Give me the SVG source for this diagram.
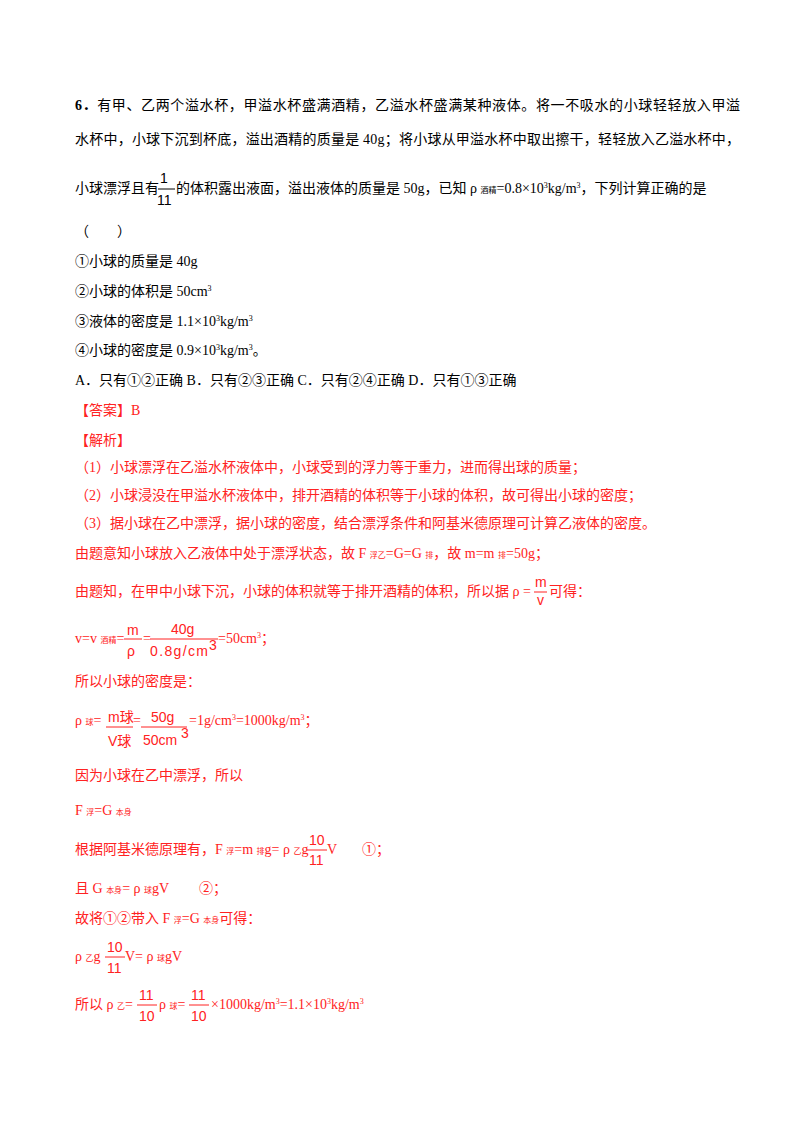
<svg xmlns="http://www.w3.org/2000/svg" width="800" height="1132" viewBox="0 0 800 1132">
<style>
text{font-family:"Liberation Serif","Noto Sans CJK SC",serif;font-size:14px;fill:#000}
.r{fill:#f22}
.s{font-size:8px}
.m{font-family:"Liberation Sans","Noto Sans CJK SC",sans-serif;font-size:14px}
line{stroke:#000;stroke-width:1}
.rl{stroke:#f22}
</style>
<rect width="800" height="1132" fill="#fff"/>
<g id="question">
<text x="75" y="110" textLength="665"><tspan font-weight="bold">6．</tspan>有甲、乙两个溢水杯，甲溢水杯盛满酒精，乙溢水杯盛满某种液体。将一不吸水的小球轻轻放入甲溢</text>
<text x="75" y="144" textLength="665">水杯中，小球下沉到杯底，溢出酒精的质量是 40g；将小球从甲溢水杯中取出擦干，轻轻放入乙溢水杯中，</text>
<text x="75" y="193">小球漂浮且有</text>
<text x="160" y="183" class="m">1</text><line x1="158" y1="189" x2="175" y2="189"/><text x="157" y="205" class="m">11</text>
<text x="176" y="193">的体积露出液面，溢出液体的质量是 50g，已知 ρ <tspan class="s">酒精</tspan>=0.8×10<tspan class="s" dy="-5">3</tspan><tspan dy="5">kg/m</tspan><tspan class="s" dy="-5">3</tspan><tspan dy="5">，下列计算正确的是</tspan></text>
<text x="75" y="236">（　　）</text>
<text x="75" y="266">①小球的质量是 40g</text>
<text x="75" y="296">②小球的体积是 50cm<tspan class="s" dy="-5">3</tspan></text>
<text x="75" y="326">③液体的密度是 1.1×10<tspan class="s" dy="-5">3</tspan><tspan dy="5">kg/m</tspan><tspan class="s" dy="-5">3</tspan></text>
<text x="75" y="355">④小球的密度是 0.9×10<tspan class="s" dy="-5">3</tspan><tspan dy="5">kg/m</tspan><tspan class="s" dy="-5">3</tspan><tspan dy="5">。</tspan></text>
<text x="75" y="385">A．只有①②正确 B．只有②③正确 C．只有②④正确 D．只有①③正确</text>
</g>
<g id="answer">
<text x="75" y="415" class="r">【答案】B</text>
<text x="75" y="445" class="r">【解析】</text>
<text x="75" y="472" class="r">（1）小球漂浮在乙溢水杯液体中，小球受到的浮力等于重力，进而得出球的质量；</text>
<text x="75" y="500" class="r">（2）小球浸没在甲溢水杯液体中，排开酒精的体积等于小球的体积，故可得出小球的密度；</text>
<text x="75" y="528" class="r">（3）据小球在乙中漂浮，据小球的密度，结合漂浮条件和阿基米德原理可计算乙液体的密度。</text>
<text x="75" y="558" class="r">由题意知小球放入乙液体中处于漂浮状态，故 F <tspan class="s">浮乙</tspan>=G=G <tspan class="s">排</tspan>，故 m=m <tspan class="s">排</tspan>=50g；</text>
<text x="75" y="596" class="r">由题知，在甲中小球下沉，小球的体积就等于排开酒精的体积，所以据 ρ =</text>
<text x="535" y="587" class="r m" font-size="12">m</text><line class="rl" x1="534" y1="592" x2="547" y2="592"/><text x="537" y="605" class="r m" font-size="11">v</text>
<text x="549" y="596" class="r">可得：</text>
<text x="75" y="643" class="r">v=v <tspan class="s">酒精</tspan>=</text>
<text x="127" y="635" class="r m">m</text><line class="rl" x1="124" y1="639" x2="142" y2="639"/><text x="127" y="656" class="r m">ρ</text>
<text x="143" y="643" class="r">=</text>
<text x="171" y="634" class="r m">40g</text><line class="rl" x1="150" y1="639" x2="218" y2="639"/><text x="150" y="656" class="r m" textLength="58">0.8g/cm</text><text x="209" y="650" class="r m" font-size="10">3</text>
<text x="218" y="643" class="r">=50cm<tspan class="s" dy="-5">3</tspan><tspan dy="5">；</tspan></text>
<text x="75" y="686" class="r">所以小球的密度是：</text>
<text x="75" y="725" class="r">ρ <tspan class="s">球</tspan>=</text>
<text x="108" y="722" class="r m" font-size="13">m球</text><line class="rl" x1="106" y1="727" x2="133" y2="727"/><text x="108" y="746" class="r m" font-size="13">V球</text>
<text x="133" y="725" class="r">=</text>
<text x="151" y="722" class="r m">50g</text><line class="rl" x1="141" y1="727" x2="187" y2="727"/><text x="143" y="745" class="r m">50cm</text><text x="181" y="738" class="r m" font-size="10">3</text>
<text x="189" y="725" class="r">=1g/cm<tspan class="s" dy="-5">3</tspan><tspan dy="5">=1000kg/m</tspan><tspan class="s" dy="-5">3</tspan><tspan dy="5">；</tspan></text>
<text x="75" y="780" class="r">因为小球在乙中漂浮，所以</text>
<text x="75" y="815" class="r">F <tspan class="s">浮</tspan>=G <tspan class="s">本身</tspan></text>
<text x="75" y="854" class="r">根据阿基米德原理有，F <tspan class="s">浮</tspan>=m <tspan class="s">排</tspan>g= ρ  <tspan class="s">乙</tspan>g</text>
<text x="309" y="845" class="r m">10</text><line class="rl" x1="307" y1="850" x2="327" y2="850"/><text x="309" y="865" class="r m">11</text>
<text x="327" y="854" class="r">V</text><text x="362" y="854" class="r">①；</text>
<text x="75" y="893" class="r">且 G <tspan class="s">本身</tspan>= ρ  <tspan class="s">球</tspan>gV</text><text x="199" y="893" class="r">②；</text>
<text x="75" y="923" class="r">故将①②带入 F <tspan class="s">浮</tspan>=G <tspan class="s">本身</tspan>可得：</text>
<text x="75" y="961" class="r">ρ  <tspan class="s">乙</tspan>g</text>
<text x="107" y="952" class="r m">10</text><line class="rl" x1="105" y1="957" x2="125" y2="957"/><text x="107" y="973" class="r m">11</text>
<text x="125" y="961" class="r">V= ρ  <tspan class="s">球</tspan>gV</text>
<text x="75" y="1009" class="r">所以 ρ  <tspan class="s">乙</tspan>=</text>
<text x="139" y="1000" class="r m">11</text><line class="rl" x1="137" y1="1005" x2="157" y2="1005"/><text x="139" y="1021" class="r m">10</text>
<text x="159" y="1009" class="r">ρ  <tspan class="s">球</tspan>=</text>
<text x="191" y="1000" class="r m">11</text><line class="rl" x1="189" y1="1005" x2="209" y2="1005"/><text x="191" y="1021" class="r m">10</text>
<text x="211" y="1009" class="r">×1000kg/m<tspan class="s" dy="-5">3</tspan><tspan dy="5">=1.1×10</tspan><tspan class="s" dy="-5">3</tspan><tspan dy="5">kg/m</tspan><tspan class="s" dy="-5">3</tspan></text>
</g>
</svg>
